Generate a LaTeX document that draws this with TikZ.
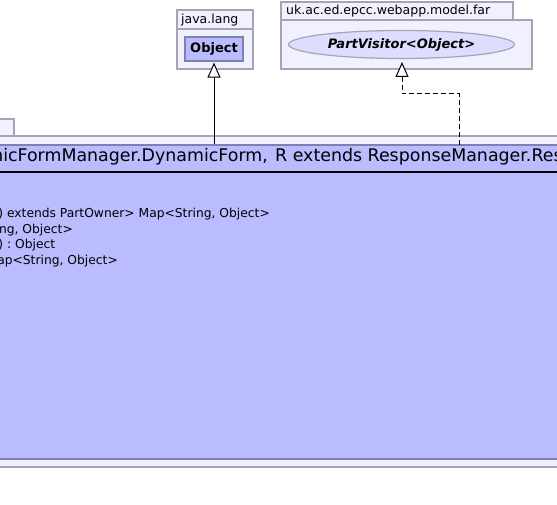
\documentclass[tikz,border=0pt]{standalone}
\usepackage{fontspec}
\setmainfont{DejaVu Sans}
\usetikzlibrary{arrows.meta,shapes.geometric}
\definecolor{clsfill}{RGB}{187,187,255}
\definecolor{clsline}{RGB}{128,128,176}
\definecolor{pkgfill}{RGB}{240,240,255}
\definecolor{pkgline}{RGB}{164,164,180}
\definecolor{ellfill}{RGB}{221,221,255}
\tikzset{
  pkg/.style={draw=pkgline, fill=pkgfill, line width=1.2pt},
  cls/.style={draw=clsline, fill=clsfill, line width=1.2pt},
  lbl/.style={font=\fontsize{12.5}{14}\selectfont, inner sep=0pt},
  attr/.style={font=\fontsize{12.3}{14}\selectfont, inner sep=0pt, anchor=base east},
  ttl/.style={font=\fontsize{17.4}{21}\selectfont, inner sep=0pt},
  gen/.style={-{Triangle[open, fill=white, length=15pt, width=13pt]}, line width=1pt},
  real/.style={gen, dash pattern=on 5pt off 3pt},
}
\begin{document}
\begin{tikzpicture}[x=1pt,y=-1pt]
\useasboundingbox (0,0) rectangle (557,505);
\clip (0,0) rectangle (557,505);
% outer package
\path[pkg] (-5,119) rectangle (14,136);
\path[pkg] (-5,136) rectangle (562,467);
% class
\node[cls, minimum width=570pt, minimum height=314pt, inner sep=0pt] (cls) at (278.5,302) {};
\draw[line width=2pt] (-5,172) -- (562,172);
\node[ttl, anchor=base east] (title) at (268,162) {DynamicFormManager.DynamicForm,};
\node[ttl, anchor=base west] (title2) at (275,162) {R extends ResponseManager.Response>};
\node[attr] (a1) at (270,218) {+ getMap(P) extends PartOwner> Map<String, Object>};
\node[attr] (a2) at (73,234) {Map<String, Object>};
\node[attr] (a3) at (55.5,249) {visit(P) : Object};
\node[attr] (a4) at (118,265) {+ getMap() : Map<String, Object>};
% java.lang package
\path[pkg] (177,10) rectangle (253,29);
\path[pkg] (177,29) rectangle (253,69);
\node[lbl, anchor=base west] (jl) at (181,24) {java.lang};
\node[cls, minimum width=58pt, minimum height=24pt, inner sep=0pt, font=\fontsize{13}{15}\selectfont\bfseries] (obj) at (214,49) {Object};
% far package
\path[pkg] (281,2) rectangle (513,20);
\path[pkg] (281,20) rectangle (532,69);
\node[lbl, anchor=base west] (far) at (286,15) {uk.ac.ed.epcc.webapp.model.far};
\node[draw=pkgline, fill=ellfill, line width=1.2pt, ellipse, minimum width=226pt, minimum height=28pt, inner sep=0pt, font=\fontsize{13}{15}\selectfont\bfseries\itshape] (pv) at (401.5,44.5) {PartVisitor<Object>};
% connectors
\coordinate (c1) at (cls.north -| obj.south);
\draw[gen] (c1) -- ([yshift=-1pt]obj.south);
\coordinate (c2) at (459,145);
\coordinate (c3) at (459,94);
\coordinate (c4) at (402,94);
\draw[real] (c2) -- (c3) -- (c4) -- (402,62);
\end{tikzpicture}
\end{document}
